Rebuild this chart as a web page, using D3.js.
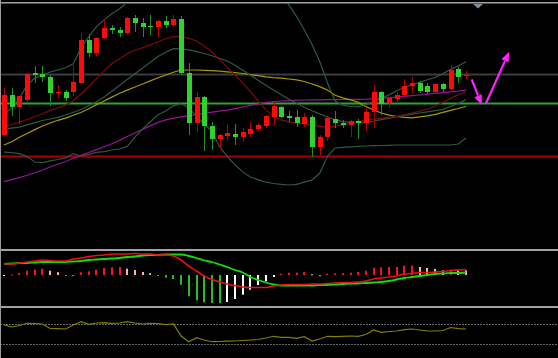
<!DOCTYPE html>
<html><head><meta charset="utf-8">
<script src="https://cdn.jsdelivr.net/npm/d3@7"></script>
<style>html,body{margin:0;padding:0;background:#000;overflow:hidden}svg{display:block}</style>
</head><body><svg id="c" width="558" height="358"></svg>
<script>
// ---- candle data (61 sessions) ----
const openP  = [11.5,15.5,14.3,15.0,17.7,17.6,17.3,15.7,15.8,15.8,16.7,21.0,19.7,21.2,22.2,22.0,21.7,23.2,22.7,22.4,22.3,22.9,22.5,23.1,17.7,12.7,15.3,12.4,11.1,11.4,11.6,11.3,11.6,12.1,12.4,13.3,14.3,13.4,13.3,12.6,13.3,10.3,11.3,13.1,12.7,12.5,12.9,12.7,13.8,15.8,14.7,15.1,15.5,16.4,16.7,16.4,15.8,16.6,16.1,18.1,17.4];
const closeP = [15.5,14.3,15.4,17.6,17.5,17.3,15.7,15.8,15.2,16.8,21.0,19.7,21.2,22.2,22.0,21.7,23.2,22.7,22.3,22.3,22.9,22.5,23.1,17.7,12.7,15.3,12.4,11.1,11.5,11.7,11.3,11.8,12.1,12.5,13.4,14.4,13.3,13.2,12.7,13.3,10.3,11.3,13.2,12.7,12.5,12.9,12.7,13.8,15.8,14.6,15.2,15.5,16.4,16.7,15.9,15.8,16.6,16.1,18.0,17.3,17.5];
const highP  = [16.2,16.2,15.4,17.7,18.4,18.4,17.5,16.5,16.0,18.5,21.7,21.6,21.3,23.0,22.5,22.3,23.3,23.5,23.2,23.5,23.0,23.4,23.5,23.4,18.7,15.8,15.4,12.8,11.6,12.6,12.6,12.2,12.8,12.7,13.5,14.8,14.4,13.9,14.0,13.7,13.5,11.5,13.4,13.9,13.0,13.0,13.1,14.3,16.5,15.9,15.3,15.8,17.1,17.3,16.9,16.7,16.7,16.7,18.5,18.3,17.9];
const lowP   = [11.5,13.4,12.5,14.7,16.7,16.8,14.4,15.2,14.9,15.4,16.7,19.3,19.4,21.1,21.6,21.3,21.6,21.8,21.3,21.5,21.2,22.2,22.3,17.5,11.5,11.8,9.9,10.0,10.1,11.0,10.5,10.8,11.3,11.9,12.2,12.4,13.2,12.8,12.3,12.3,9.3,9.5,10.9,12.2,12.2,11.3,11.1,11.9,12.2,13.5,14.2,14.8,15.3,15.7,15.7,15.6,15.7,15.8,16.0,16.7,17.1];

// ---- overlays on price panel ----
const maRed   = [12.32,12.55,12.78,13.05,13.32,13.62,13.96,14.23,14.49,14.92,15.60,16.37,17.14,17.91,18.62,19.12,19.62,19.97,20.24,20.51,20.82,21.13,21.33,21.37,21.17,20.90,20.39,19.81,19.04,18.24,17.50,16.72,15.84,14.90,14.01,13.41,13.01,12.81,12.70,12.63,12.47,12.37,12.32,12.39,12.48,12.66,12.84,12.98,13.08,13.17,13.27,13.36,13.51,13.70,13.89,14.07,14.38,14.77,15.16,15.54,15.80];
const bollMid = [12.06,12.18,12.29,12.51,12.74,12.95,13.10,13.26,13.50,13.77,14.05,14.43,14.82,15.31,15.88,16.46,17.04,17.62,18.20,18.77,19.35,19.77,20.13,20.12,20.02,19.84,19.65,19.43,19.16,18.90,18.47,17.97,17.47,16.97,16.47,15.99,15.53,15.07,14.67,14.28,13.92,13.61,13.30,13.03,12.83,12.76,12.71,12.79,12.90,13.03,13.18,13.33,13.47,13.58,13.70,13.81,13.93,14.06,14.35,14.66,15.04];
const bollUp  = [13.55,14.21,15.15,16.50,17.18,17.50,17.80,18.01,18.22,18.62,20.24,21.31,22.33,23.01,23.62,24.12,24.78,25.6,26.4,27.0,27.6,28.0,28.4,28.4,28.0,27.8,27.6,27.6,28.0,28.4,28.4,28.2,27.7,27.0,26.4,25.8,25.4,24.50,23.34,22.03,20.56,18.86,16.72,14.90,14.48,14.35,14.31,14.55,14.84,15.15,15.51,15.93,16.25,16.52,16.79,17.02,17.26,17.64,18.06,18.41,18.83];
const bollLow = [9.78,9.73,9.64,9.34,8.80,8.73,8.91,9.05,9.21,9.64,9.40,9.57,9.76,9.84,10.00,10.10,10.36,11.28,12.10,12.83,13.52,13.90,14.42,14.62,14.21,13.37,12.60,11.87,10.33,9.35,8.52,7.81,7.30,7.04,6.78,6.65,6.57,6.50,6.57,6.78,6.98,7.67,9.37,10.20,10.27,10.32,10.37,10.40,10.43,10.45,10.47,10.50,10.50,10.50,10.50,10.50,10.50,10.50,10.50,10.60,11.20];
const maYellow= [10.50,10.83,11.28,11.65,12.04,12.40,12.70,12.97,13.19,13.47,13.75,14.12,14.52,14.90,15.29,15.68,15.99,16.30,16.60,16.91,17.22,17.50,17.77,18.00,18.00,18.00,17.97,17.93,17.88,17.82,17.75,17.65,17.54,17.43,17.32,17.24,17.18,17.10,17.02,16.85,16.60,16.34,16.00,15.48,15.22,15.02,14.76,14.35,14.00,13.70,13.48,13.35,13.26,13.22,13.31,13.41,13.57,13.77,13.97,14.15,14.35];
const maPurple= [6.84,7.04,7.24,7.47,7.73,8.00,8.30,8.57,8.85,9.17,9.46,9.75,10.04,10.33,10.63,10.96,11.35,11.70,12.06,12.41,12.76,13.01,13.18,13.32,13.44,13.55,13.67,13.78,13.88,13.99,14.14,14.30,14.46,14.61,14.74,14.85,14.90,14.94,14.98,15.00,15.01,15.02,15.03,15.04,15.05,15.06,15.07,15.09,15.13,15.17,15.23,15.30,15.36,15.43,15.50,15.58,15.66,15.74,15.82,15.90,15.98];
const levels  = [17.55, 14.65, 9.35];
const arrows  = [{from:[60.74,17.07], to:[62.04,14.50]}, {from:[62.6,14.67], to:[65.6,19.83]}];

// ---- MACD ----
const dif  = [0.11,0.11,0.12,0.13,0.14,0.15,0.145,0.14,0.14,0.16,0.17,0.185,0.195,0.20,0.21,0.21,0.21,0.215,0.21,0.21,0.20,0.20,0.19,0.15,0.09,0.04,-0.01,-0.045,-0.07,-0.09,-0.105,-0.12,-0.125,-0.125,-0.125,-0.11,-0.10,-0.095,-0.095,-0.095,-0.09,-0.09,-0.085,-0.08,-0.075,-0.075,-0.07,-0.06,-0.04,-0.03,-0.02,-0.01,0.01,0.015,0.025,0.025,0.03,0.035,0.045,0.05,0.055];
const dea  = [0.11,0.115,0.12,0.12,0.125,0.13,0.13,0.13,0.13,0.135,0.14,0.15,0.155,0.16,0.165,0.17,0.18,0.185,0.195,0.20,0.20,0.205,0.205,0.205,0.19,0.17,0.145,0.13,0.105,0.08,0.05,0.025,-0.02,-0.05,-0.075,-0.095,-0.105,-0.105,-0.105,-0.105,-0.105,-0.10,-0.10,-0.095,-0.09,-0.085,-0.085,-0.08,-0.075,-0.07,-0.06,-0.045,-0.03,-0.02,-0.01,0.00,0.01,0.015,0.02,0.02,0.025];
const hist = [-0.005,0.005,0.02,0.043,0.053,0.063,0.043,0.027,-0.01,-0.012,0.027,0.037,0.053,0.07,0.077,0.08,0.063,0.05,0.03,0.017,-0.01,-0.027,-0.04,-0.097,-0.213,-0.253,-0.273,-0.28,-0.282,-0.27,-0.24,-0.197,-0.147,-0.10,-0.063,-0.02,0.013,0.023,0.024,0.03,0.007,-0.013,0.013,0.017,0.02,0.023,0.03,0.043,0.073,0.077,0.08,0.081,0.093,0.094,0.08,0.07,0.06,0.047,0.053,0.047,0.046];

// ---- RSI ----
const rsi  = [68.5,64.2,67.1,71.5,71.1,70.1,61.2,60.8,60.2,68.1,74.6,69.5,72.0,72.6,71.5,72.0,74.6,72.0,70.1,71.5,71.1,68.7,70.1,46.5,35.2,43.1,38.6,35.2,35.6,36.2,36.6,37.6,38.6,39.6,42.5,45.9,43.9,43.9,41.9,45.1,36.6,40.6,45.9,45.1,45.9,46.5,45.9,49.4,58.3,53.7,55.3,56.3,58.9,60.2,58.3,56.3,56.3,57.3,63.2,60.8,60.2];
const rsiLevels = [70, 30];

// ---------------- drawing ----------------
const W = 558, H = 358;
const svg = d3.select('#c');
svg.append('rect').attr('width', W).attr('height', H).attr('fill', '#000');

const idx = d3.range(openP.length);
const x = d3.scaleLinear().domain([0, 60]).range([4, 466]);
const y = d3.scaleLinear().domain([0, 25]).range([250, 0]);
const ym = d3.scaleLinear().domain([-0.31, 0.25]).range([306, 250]);
const yr = d3.scaleLinear().domain([0, 100]).range([359.6, 308.8]);

const defs = svg.append('defs');
defs.append('clipPath').attr('id', 'mainClip').append('rect').attr('x', 0).attr('y', 4).attr('width', W).attr('height', 244);
defs.append('clipPath').attr('id', 'macdClip').append('rect').attr('x', 0).attr('y', 251).attr('width', W).attr('height', 55);
defs.append('clipPath').attr('id', 'rsiClip').append('rect').attr('x', 0).attr('y', 308).attr('width', W).attr('height', 50);

const main = svg.append('g').attr('clip-path', 'url(#mainClip)');

// horizontal levels
const levelColors = ['#3a3d42', '#35a035', '#a80000'];
main.selectAll('line.lvl').data(levels).join('line')
  .attr('x1', 0).attr('x2', W)
  .attr('y1', d => y(d)).attr('y2', d => y(d))
  .attr('stroke', (d, i) => levelColors[i]).attr('stroke-width', 2);

// overlay lines
const line = arr => d3.line().x((d, i) => x(i)).y(d => y(d))(arr);
const overlays = [
  {data: maPurple, color: '#9a119a', w: 1.2},
  {data: maYellow, color: '#a89a00', w: 1.2},
  {data: bollLow, color: '#2c5a40', w: 1.2},
  {data: bollUp, color: '#2c5a40', w: 1.2},
  {data: bollMid, color: '#2c5a40', w: 1.2},
  {data: maRed, color: '#7a0c0c', w: 1.2}
];
main.selectAll('path.ov').data(overlays).join('path')
  .attr('d', d => line(d.data)).attr('fill', 'none')
  .attr('stroke', d => d.color).attr('stroke-width', d => d.w);

// candles
const up = i => closeP[i] >= openP[i];
const cg = main.selectAll('g.candle').data(idx).join('g');
cg.append('line')
  .attr('x1', i => Math.round(x(i)) + 0.5).attr('x2', i => Math.round(x(i)) + 0.5)
  .attr('y1', i => y(highP[i])).attr('y2', i => y(lowP[i]))
  .attr('stroke', i => up(i) ? '#b00000' : '#1f8f1f').attr('stroke-width', 1);
cg.append('rect')
  .attr('x', i => Math.round(x(i)) - 2).attr('width', 5)
  .attr('y', i => y(Math.max(openP[i], closeP[i])))
  .attr('height', i => Math.max(1, Math.abs(y(openP[i]) - y(closeP[i]))))
  .attr('fill', i => up(i) ? '#ff0a0a' : '#2fd22f');

// last doji cross
// arrows
const mag = '#ff22ff';
arrows.forEach(a => {
  const x1 = x(a.from[0]), y1 = y(a.from[1]), x2 = x(a.to[0]), y2 = y(a.to[1]);
  const ang = Math.atan2(y2 - y1, x2 - x1), L = 10, Wd = 4;
  const bx = x2 - L * Math.cos(ang), by = y2 - L * Math.sin(ang);
  main.append('line').attr('x1', x1).attr('y1', y1).attr('x2', bx).attr('y2', by)
    .attr('stroke', mag).attr('stroke-width', 2.2);
  const px = -Math.sin(ang) * Wd, py = Math.cos(ang) * Wd;
  main.append('path').attr('d', `M${x2},${y2}L${bx + px},${by + py}L${bx - px},${by - py}Z`).attr('fill', mag);
});

// top triangle marker
svg.append('path').attr('d', 'M473,4L483,4L478,8.5Z').attr('fill', '#7d8fa0');

// ---- MACD panel ----
const macd = svg.append('g').attr('clip-path', 'url(#macdClip)');
const histColor = (v, i) => {
  const prev = i > 0 ? hist[i - 1] : null;
  if (v >= 0) return (prev === null || v > prev) ? '#ff1010' : '#ffb4b4';
  return (prev !== null && v < prev) ? '#20c020' : '#ffffff';
};
macd.selectAll('rect.h').data(hist).join('rect')
  .attr('x', (d, i) => Math.round(x(i)) - 1).attr('width', 2)
  .attr('y', d => Math.min(ym(d), ym(0)))
  .attr('height', d => Math.max(1, Math.abs(ym(d) - ym(0))))
  .attr('fill', histColor);
const mline = d3.line().x((d, i) => x(i)).y(d => ym(d)).curve(d3.curveMonotoneX);
macd.append('path').attr('d', mline(dea)).attr('fill', 'none').attr('stroke', '#10dd10').attr('stroke-width', 1.8);
macd.append('path').attr('d', mline(dif)).attr('fill', 'none').attr('stroke', '#e81010').attr('stroke-width', 1.6);

// ---- RSI panel ----
const rg = svg.append('g').attr('clip-path', 'url(#rsiClip)');
rg.selectAll('line.rl').data(rsiLevels).join('line')
  .attr('x1', 0).attr('x2', W).attr('y1', d => Math.round(yr(d)) + 0.5).attr('y2', d => Math.round(yr(d)) + 0.5)
  .attr('stroke', '#6a6a6a').attr('stroke-width', 1).attr('stroke-dasharray', '2,1');
rg.append('path').attr('d', d3.line().x((d, i) => x(i)).y(d => yr(d))(rsi))
  .attr('fill', 'none').attr('stroke', '#808000').attr('stroke-width', 1.2);

// ---- frame / separators ----
const sep = '#a2a2a2';
svg.append('rect').attr('x', 0).attr('y', 2).attr('width', W).attr('height', 1.5).attr('fill', sep);
svg.append('rect').attr('x', 0).attr('y', 249).attr('width', W).attr('height', 2).attr('fill', sep);
svg.append('rect').attr('x', 0).attr('y', 306).attr('width', W).attr('height', 2).attr('fill', sep);
svg.append('rect').attr('x', 0).attr('y', 0).attr('width', 1).attr('height', H).attr('fill', '#9a9a9a');
</script></body></html>
